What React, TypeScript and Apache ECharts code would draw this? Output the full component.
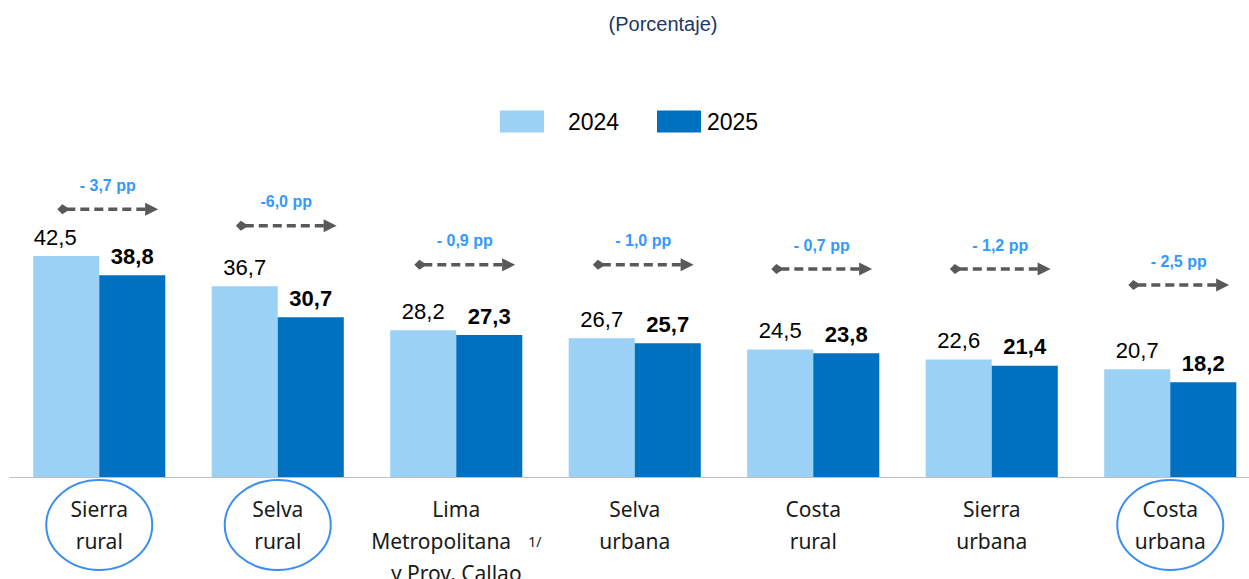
import React, { useEffect, useRef } from "react";
import * as echarts from "echarts";

const categories = [
  "Sierra\nrural",
  "Selva\nrural",
  "Lima\nMetropolitana{sup|1/}\ny Prov. Callao",
  "Selva\nurbana",
  "Costa\nrural",
  "Sierra\nurbana",
  "Costa\nurbana",
];
const values2024 = [42.5, 36.7, 28.2, 26.7, 24.5, 22.6, 20.7];
const values2025 = [38.8, 30.7, 27.3, 25.7, 23.8, 21.4, 18.2];
const diffLabels = ["- 3,7 pp", "-6,0 pp", "- 0,9 pp", "- 1,0 pp", "- 0,7 pp", "- 1,2 pp", "- 2,5 pp"];
const arrowLevels = [51.5, 48.3, 40.8, 40.8, 40.0, 40.0, 36.9];
const circledCategories = [0, 1, 6];

const fmt = (v: number) => v.toFixed(1).replace(".", ",");

export default function App() {
  const ref = useRef<HTMLDivElement>(null);
  useEffect(() => {
    document.body.style.margin = "0";
    if (!ref.current) return;
    const chart = echarts.init(ref.current, undefined, { renderer: "svg" });
    const GRAY = "#595959";
    chart.setOption({
      animation: false,
      backgroundColor: "#ffffff",
      title: {
        text: "(Porcentaje)",
        left: 663,
        top: 14,
        padding: 0,
        textAlign: "center",
        textStyle: { fontSize: 20, fontWeight: "normal", color: "#203864", fontFamily: "Liberation Sans" },
      },
      legend: [
        {
          data: ["2024"],
          left: 500,
          top: 110,
          padding: 0,
          itemWidth: 44,
          itemHeight: 22,
          icon: "rect",
          textStyle: { fontSize: 23, color: "#000", fontFamily: "Liberation Sans", padding: [0, 0, 0, 19] },
        },
        {
          data: ["2025"],
          left: 657,
          top: 110,
          padding: 0,
          itemWidth: 44,
          itemHeight: 22,
          icon: "rect",
          textStyle: { fontSize: 23, color: "#000", fontFamily: "Liberation Sans", padding: [0, 0, 0, 1] },
        },
      ],
      grid: { left: 10, width: 1249.5, top: 165, height: 312, containLabel: false, outerBoundsMode: "none" },
      xAxis: {
        type: "category",
        data: categories,
        axisLine: { lineStyle: { color: "#BFBFBF", width: 1 } },
        axisTick: { length: 8, lineStyle: { color: "#BFBFBF" } },
        axisLabel: {
          interval: 0,
          fontSize: 21,
          lineHeight: 32,
          color: "#1a1a1a",
          fontFamily: "Noto Sans",
          margin: 16,
          rich: {
            sup: { fontSize: 14, lineHeight: 32, padding: [0, 0, 0, 17], color: "#1a1a1a", fontFamily: "Noto Sans" },
          },
        },
      },
      yAxis: { type: "value", min: 0, max: 60, show: false, splitLine: { show: false } },
      series: [
        {
          name: "2024",
          type: "bar",
          data: values2024.map((v, i) =>
            i === 0 ? { value: v, label: { offset: [-11, 0] } } : v
          ),
          barGap: "0%",
          barCategoryGap: "26%",
          itemStyle: { color: "#9AD1F4" },
          label: {
            show: true,
            position: "top",
            distance: 8,
            fontSize: 22,
            color: "#000",
            fontFamily: "Liberation Sans",
            formatter: (p: any) => fmt(p.value),
          },
        },
        {
          name: "2025",
          type: "bar",
          data: values2025,
          itemStyle: { color: "#0070C0" },
          label: {
            show: true,
            position: "top",
            distance: 8,
            fontSize: 22,
            fontWeight: "bold",
            color: "#000",
            fontFamily: "Liberation Sans",
            formatter: (p: any) => fmt(p.value),
          },
        },
        {
          name: "arrows",
          type: "custom",
          clip: false,
          silent: true,
          data: arrowLevels.map((v, i) => [i, v]),
          renderItem: (params: any, api: any) => {
            const idx = api.value(0);
            const c = api.coord([idx, api.value(1)]);
            const bw = api.size([1, 0])[0];
            const x1 = c[0] - 0.235 * bw;
            const x2 = c[0] + 0.33 * bw;
            const y = c[1];
            const cx = (x1 + x2) / 2;
            return {
              type: "group",
              children: [
                {
                  type: "line",
                  shape: { x1: x1 + 9, y1: y, x2: x2 - 12, y2: y },
                  style: { stroke: GRAY, lineWidth: 3.5, lineDash: [9, 5] },
                },
                {
                  type: "polygon",
                  shape: { points: [[x1, y], [x1 + 5, y - 5], [x1 + 10, y - 1.75], [x1 + 10, y + 1.75], [x1 + 5, y + 5]] },
                  style: { fill: GRAY },
                },
                {
                  type: "polygon",
                  shape: { points: [[x2, y], [x2 - 13, y - 6.5], [x2 - 13, y + 6.5]] },
                  style: { fill: GRAY },
                },
                {
                  type: "text",
                  x: cx,
                  y: y - 24,
                  style: {
                    text: diffLabels[idx],
                    fill: "#3399FF",
                    fontSize: 16,
                    fontWeight: "bold",
                    fontFamily: "Liberation Sans",
                    align: "center",
                    verticalAlign: "middle",
                  },
                },
              ],
            };
          },
        },
        {
          name: "circles",
          type: "custom",
          clip: false,
          silent: true,
          data: circledCategories.map((i) => [i, 0]),
          renderItem: (params: any, api: any) => {
            const c = api.coord([api.value(0), api.value(1)]);
            return {
              type: "ellipse",
              shape: { cx: c[0], cy: c[1] + 48, rx: 53, ry: 45 },
              style: { fill: "none", stroke: "#3D8FEF", lineWidth: 2 },
            };
          },
        },
      ],
    });
    return () => chart.dispose();
  }, []);
  return <div ref={ref} style={{ width: 1249, height: 579 }} />;
}
